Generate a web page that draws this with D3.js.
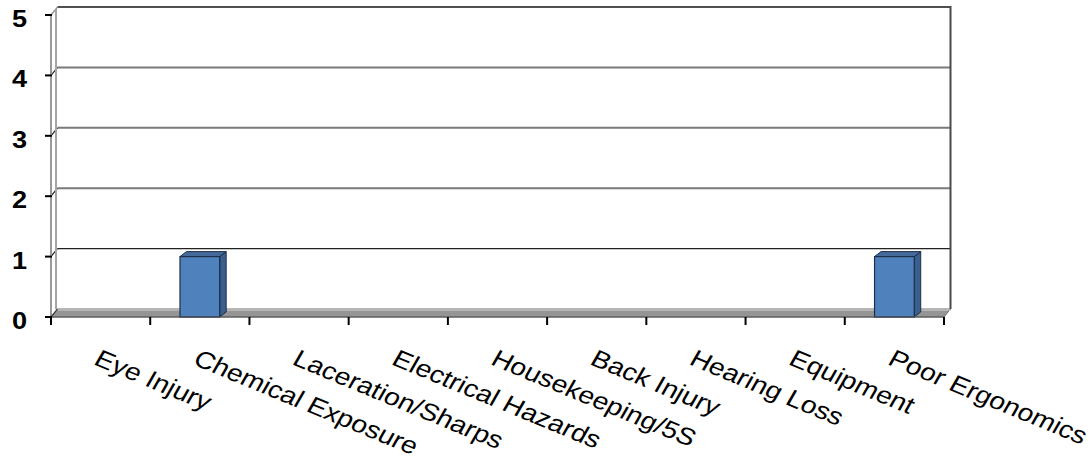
<!DOCTYPE html>
<html>
<head>
<meta charset="utf-8">
<script src="https://cdn.jsdelivr.net/npm/d3@7"></script>
<style>
  html, body { margin: 0; padding: 0; background: #fff; }
  svg { display: block; }
  text { font-family: "Liberation Sans", Arial, sans-serif; fill: #000; }
</style>
</head>
<body>
<svg id="chart" width="1092" height="464"></svg>
<script>
// Incident counts by hazard category
const categories = ["Eye Injury", "Chemical Exposure", "Laceration/Sharps", "Electrical Hazards",
  "Housekeeping/5S", "Back Injury", "Hearing Loss", "Equipment", "Poor Ergonomics"];
const counts = [0, 1, 0, 0, 0, 0, 0, 0, 1];
const yTicks = [0, 1, 2, 3, 4, 5];

const svg = d3.select("#chart");

// Front plane scales
const x = d3.scaleBand().domain(categories).range([51, 944]).paddingInner(0).paddingOuter(0);
const y = d3.scaleLinear().domain([0, 5]).range([317, 15]);

// Oblique depth of the walls and of the columns
const wallDx = 6.5, wallDy = -8;
const barDx = 6.5, barDy = -5;
const sx = 1.18; // horizontal text stretch

const x0 = x.range()[0], x1 = x.range()[1];

// Back wall
svg.append("rect")
  .attr("x", x0 + wallDx).attr("y", y(5) + wallDy)
  .attr("width", x1 - x0).attr("height", y(0) - y(5))
  .attr("fill", "#fff");

// Floor
svg.append("path")
  .attr("d", `M${x0},${y(0)} L${x0 + wallDx},${y(0) + wallDy} L${x1 + wallDx},${y(0) + wallDy} L${x1},${y(0)} Z`)
  .attr("fill", "#959595").attr("stroke", "#6e6e6e").attr("stroke-width", 1);
svg.append("line")
  .attr("x1", x0 + wallDx).attr("x2", x1 + wallDx)
  .attr("y1", y(0) + wallDy + 1).attr("y2", y(0) + wallDy + 1)
  .attr("stroke", "#b4b4b4").attr("stroke-width", 2);

// Gridlines on the back wall, with short diagonals across the side wall
yTicks.filter(d => d > 0).forEach(d => {
  const top = d === 5;
  const stroke = top ? "#505050" : (d === 1 ? "#222" : "#7a7a7a");
  const sw = d === 1 ? 1.2 : 2;
  svg.append("line")
    .attr("x1", x0 + wallDx).attr("x2", x1 + wallDx)
    .attr("y1", y(d) + wallDy).attr("y2", y(d) + wallDy)
    .attr("stroke", stroke).attr("stroke-width", sw);
  svg.append("line")
    .attr("x1", x0).attr("y1", y(d))
    .attr("x2", x0 + wallDx).attr("y2", y(d) + wallDy)
    .attr("stroke", d === 5 ? "#8a8a8a" : "#222").attr("stroke-width", 1.2);
});

// Side wall edges
svg.append("line")
  .attr("x1", x0).attr("x2", x0).attr("y1", y(5)).attr("y2", y(0))
  .attr("stroke", "#9a9a9a").attr("stroke-width", 2);
svg.append("line")
  .attr("x1", x0 + wallDx - 1.5).attr("x2", x0 + wallDx - 1.5).attr("y1", y(5) + wallDy + 2).attr("y2", y(0) + wallDy)
  .attr("stroke", "#a5a5a5").attr("stroke-width", 2);
svg.append("line")
  .attr("x1", x0).attr("y1", y(0))
  .attr("x2", x0 + wallDx).attr("y2", y(0) + wallDy)
  .attr("stroke", "#444").attr("stroke-width", 1.2);

// Right edge of the back wall
svg.append("line")
  .attr("x1", x1 + wallDx).attr("x2", x1 + wallDx)
  .attr("y1", y(5) + wallDy - 1).attr("y2", y(0) + wallDy)
  .attr("stroke", "#4a4a4a").attr("stroke-width", 2);

// Columns
const bw = x.bandwidth() * 0.4;
const bars = svg.append("g").selectAll("g")
  .data(categories.map((c, i) => ({ c, v: counts[i] })).filter(d => d.v > 0))
  .join("g");

bars.each(function (d) {
  const g = d3.select(this);
  const cx = x(d.c) + x.bandwidth() / 2;
  const l = cx - bw / 2, r = cx + bw / 2;
  const t = y(d.v), b = y(0);
  // side
  g.append("path")
    .attr("d", `M${r},${b} L${r + barDx},${b + barDy} L${r + barDx},${t + barDy} L${r},${t} Z`)
    .attr("fill", "#3a5f8e").attr("stroke", "#1c2f47").attr("stroke-width", 1);
  // top
  g.append("path")
    .attr("d", `M${l},${t} L${l + barDx},${t + barDy} L${r + barDx},${t + barDy} L${r},${t} Z`)
    .attr("fill", "#45699b").attr("stroke", "#1c2f47").attr("stroke-width", 1);
  // front
  g.append("rect")
    .attr("x", l).attr("y", t).attr("width", bw).attr("height", b - t)
    .attr("fill", "#4f81bd").attr("stroke", "#1c2f47").attr("stroke-width", 1.2);
});

// Front floor edge (x axis line)
svg.append("line")
  .attr("x1", x0).attr("x2", x1).attr("y1", y(0)).attr("y2", y(0))
  .attr("stroke", "#555").attr("stroke-width", 1.2);

// X tick marks at band boundaries
const xEdges = categories.map(c => x(c)).concat([x1]);
svg.append("g").selectAll("line").data(xEdges).join("line")
  .attr("x1", d => d).attr("x2", d => d)
  .attr("y1", y(0)).attr("y2", y(0) + 8)
  .attr("stroke", "#000").attr("stroke-width", 2);

// Y tick marks
svg.append("g").selectAll("line").data(yTicks).join("line")
  .attr("x1", x0 - 6).attr("x2", x0 + 1)
  .attr("y1", d => y(d)).attr("y2", d => y(d))
  .attr("stroke", "#000").attr("stroke-width", 2);

// Y tick labels
svg.append("g").selectAll("text").data(yTicks).join("text")
  .attr("transform", d => `translate(27,${y(d) + 12}) scale(${sx},1)`)
  .attr("text-anchor", "end")
  .attr("font-size", 23).attr("font-weight", "bold")
  .text(d => d);

// Category labels, slanted
svg.append("g").selectAll("text").data(categories).join("text")
  .attr("transform", d => `translate(${x(d) + x.bandwidth() / 2 - 8},364) scale(${sx},1) rotate(26)`)
  .attr("text-anchor", "start")
  .attr("font-size", 24)
  .text(d => d);
</script>
</body>
</html>
